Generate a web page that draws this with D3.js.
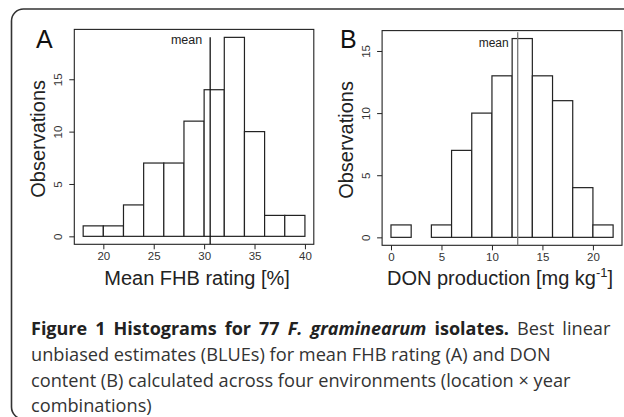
<!DOCTYPE html>
<html><head><meta charset="utf-8">
<script src="https://cdn.jsdelivr.net/npm/d3@7"></script>
<style>body{margin:0;background:#fff}svg{display:block}</style>
</head><body>
<svg id="c" width="624" height="417"></svg>
<script>
// Panel A: Mean FHB rating [%], bins of width 2
const fhbBinStarts = [18,20,22,24,26,28,30,32,34,36,38];
const fhbCounts    = [1,1,3,7,7,11,14,19,10,2,2];
const fhbMean = 30.6;
const fhbXTicks = [20,25,30,35,40];
const fhbYTicks = [0,5,10,15];
// Panel B: DON production [mg kg-1]
const donBinStarts = [0,2,4,6,8,10,12,14,16,18,20];
const donCounts    = [1,0,1,7,10,13,16,13,11,4,1];
const donMean = 12.55;
const donXTicks = [0,5,10,15,20];
const donYTicks = [0,5,10,15];
const binWidth = 2;

const svg = d3.select("#c");
const ink = "#222";

svg.append("rect").attr("x",11.5).attr("y",9).attr("width",700).attr("height",410)
  .attr("rx",12).attr("fill","none").attr("stroke","#333").attr("stroke-width",1.6);

function panel(o){
  const xmin = d3.min(o.starts), xmax = d3.max(o.starts)+binWidth;
  const ymax = d3.max(o.counts);
  const xpad = (xmax-xmin)*0.04, ypad = ymax*0.04;
  const x = d3.scaleLinear().domain([xmin-xpad, xmax+xpad]).range([o.left, o.right]);
  const y = d3.scaleLinear().domain([-ypad, ymax+ypad]).range([o.bottom, o.top]);
  const g = svg.append("g");
  g.selectAll("rect.bar").data(o.starts.map((s,i)=>({s,c:o.counts[i]}))).join("rect")
    .attr("class","bar")
    .attr("x",d=>x(d.s)).attr("width",d=>x(d.s+binWidth)-x(d.s))
    .attr("y",d=>y(d.c)).attr("height",d=>y(0)-y(d.c))
    .attr("fill","#fff").attr("stroke",ink).attr("stroke-width",1.2);
  g.append("rect").attr("x",o.left).attr("y",o.top).attr("width",o.right-o.left).attr("height",o.bottom-o.top)
    .attr("fill","none").attr("stroke",ink).attr("stroke-width",1.1);
  g.append("line").attr("x1",x(o.mean)).attr("x2",x(o.mean))
    .attr("y1",y(o.meanTop)).attr("y2",o.bottom)
    .attr("stroke",o.meanColor).attr("stroke-width",1.3);
  g.append("text").attr("x",x(o.mean)-o.meanGap).attr("y",o.meanY)
    .attr("text-anchor","end").attr("font-family","Liberation Sans, Arial, sans-serif")
    .attr("font-size",o.meanSize).attr("fill",ink).text("mean");
  const xa = g.append("g").attr("transform",`translate(0,${o.bottom})`)
    .call(d3.axisBottom(x).tickValues(o.xticks).tickSize(5).tickPadding(3).tickFormat(d3.format("d")));
  xa.select(".domain").remove();
  xa.selectAll("line").attr("stroke",ink);
  xa.selectAll("text").attr("font-family","Liberation Sans, Arial, sans-serif").attr("font-size",11.5).attr("fill","#333");
  const ya = g.append("g").attr("transform",`translate(${o.left},0)`)
    .call(d3.axisLeft(y).tickValues(o.yticks).tickSize(5).tickFormat(d3.format("d")));
  ya.select(".domain").remove();
  ya.selectAll("line").attr("stroke",ink);
  ya.selectAll("text").attr("x",null).attr("dy",null).attr("text-anchor","middle")
    .attr("transform","translate(-12,0) rotate(-90)")
    .attr("font-family","Liberation Sans, Arial, sans-serif").attr("font-size",11.5).attr("fill","#333");
  g.append("text").attr("transform",`translate(${o.left-29},${(o.top+o.bottom)/2+2}) rotate(-90)`)
    .attr("text-anchor","middle").attr("font-family","Liberation Sans, Arial, sans-serif")
    .attr("font-size",20).attr("fill",ink).text("Observations");
  const xt = g.append("text").attr("x",(o.left+o.right)/2+o.xtShift).attr("y",285)
    .attr("text-anchor","middle").attr("font-family","Liberation Sans, Arial, sans-serif")
    .attr("font-size",20).attr("fill",ink);
  o.xtitle(xt);
  g.append("text").attr("x",o.labelX).attr("y",48).attr("font-family","Liberation Sans, Arial, sans-serif")
    .attr("font-size",25).attr("fill","#111").text(o.label);
}

panel({starts:fhbBinStarts,counts:fhbCounts,mean:fhbMean,meanTop:19,meanColor:"#111",meanGap:8,meanY:44,meanSize:12.5,
  xticks:fhbXTicks,yticks:fhbYTicks,left:74.3,right:313.8,top:29.4,bottom:244.3,xtShift:3,labelX:36,label:"A",
  xtitle:t=>t.text("Mean FHB rating [%]")});
panel({starts:donBinStarts,counts:donCounts,mean:donMean,meanTop:16.5,meanColor:"#777",meanGap:9,meanY:46.5,meanSize:12,
  xticks:donXTicks,yticks:donYTicks,left:382.1,right:622,top:30.6,bottom:245.3,xtShift:-2,labelX:340,label:"B",
  xtitle:t=>{t.append("tspan").text("DON production [mg kg");
    t.append("tspan").attr("dy",-8).attr("font-size",13).text("-1");
    t.append("tspan").attr("dy",8).text("]");}});

// caption
const cap = svg.append("g").attr("font-family","Open Sans, sans-serif").attr("font-size",18.2).attr("fill","#333");
const l1 = cap.append("text").attr("x",31).attr("y",335);
l1.append("tspan").attr("font-weight","bold").attr("font-size",18).attr("fill","#222").text("Figure 1 Histograms for 77 ");
l1.append("tspan").attr("font-weight","bold").attr("font-size",18).attr("font-style","italic").attr("fill","#222").text("F. graminearum");
l1.append("tspan").attr("font-weight","bold").attr("font-size",18).attr("fill","#222").text(" isolates.");
l1.append("tspan").text(" Best linear");
// justify first line to the caption's right edge
const natural = l1.node().getComputedTextLength();
const extra = Math.max(0, (576 - natural) / 8);
l1.attr("word-spacing", extra);
cap.append("text").attr("x",31).attr("y",361).text("unbiased estimates (BLUEs) for mean FHB rating (A) and DON");
cap.append("text").attr("x",31).attr("y",387).text("content (B) calculated across four environments (location \u00d7 year");
cap.append("text").attr("x",31).attr("y",412).text("combinations)");
</script>
</body></html>
